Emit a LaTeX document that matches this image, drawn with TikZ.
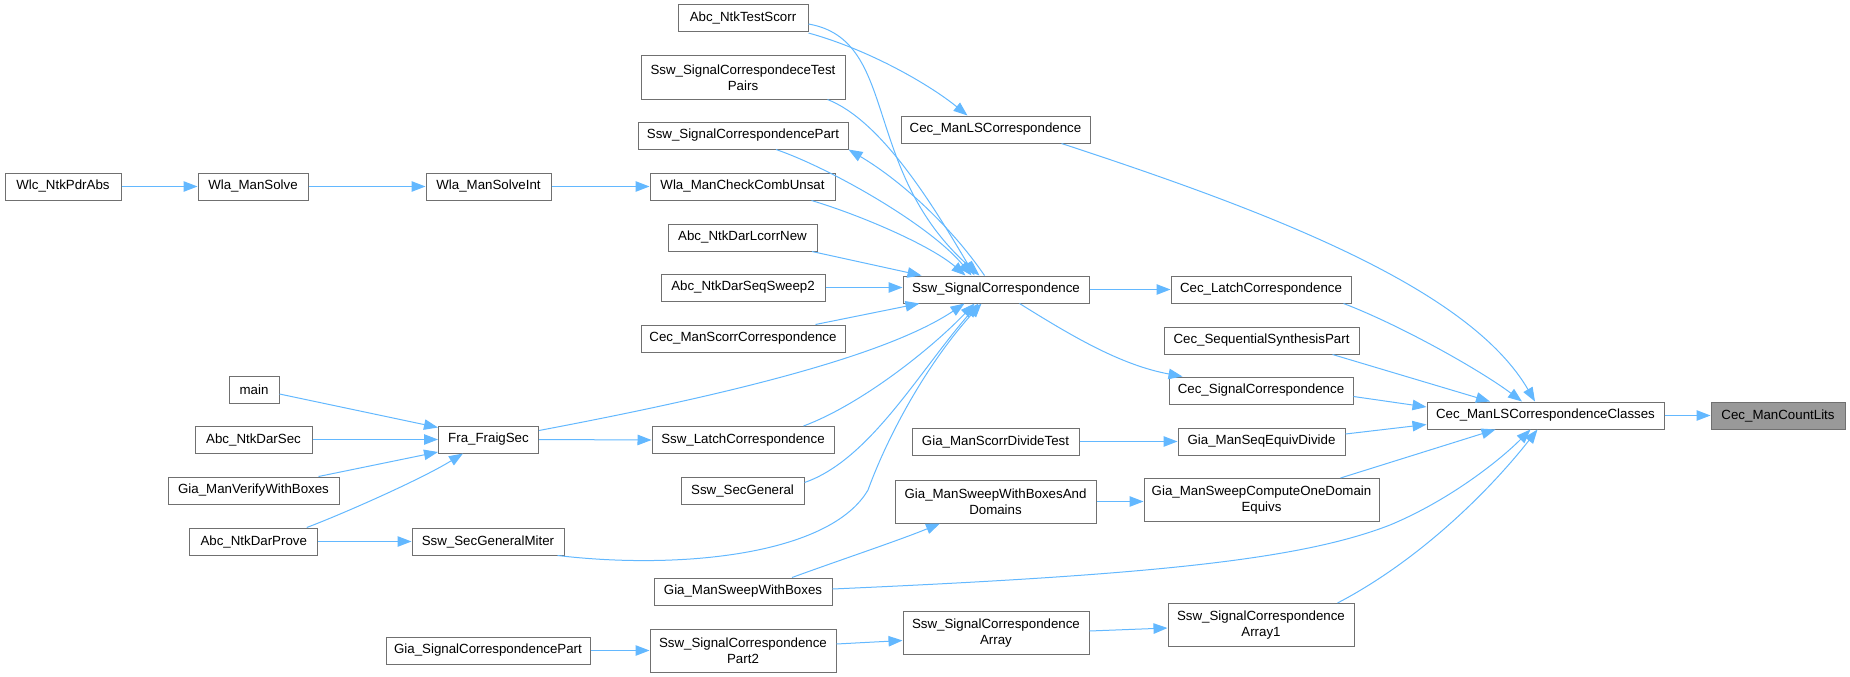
\documentclass[tikz,border=0pt]{standalone}
\usepackage{fontspec}
\setmainfont{Liberation Sans}
\usetikzlibrary{arrows.meta}
\definecolor{edgeblue}{HTML}{63B8FF}
\definecolor{boxline}{HTML}{707070}
\definecolor{hlfill}{HTML}{999999}
\tikzset{
  box/.style={draw=boxline, line width=1pt, fill=white, inner sep=0pt, minimum height=27pt,
    align=center, font=\fontsize{13.3}{15.7}\selectfont, text=black},
  box2/.style={box, minimum height=43pt},
  hl/.style={box, fill=hlfill},
  link/.style={draw=edgeblue, line width=1pt, -{Triangle[length=14pt,width=10.5pt]}}
}
\begin{document}
\begin{tikzpicture}[x=1pt,y=-1pt]
\useasboundingbox (0,0) rectangle (1850,677);
% column 1
\node[box, minimum width=116pt] (wlc) at (63,186.5) {Wlc\_NtkPdrAbs};
% column 2
\node[box, minimum width=110pt] (wms) at (253,186.5) {Wla\_ManSolve};
\node[box, minimum width=50pt] (main) at (254,389.5) {main};
\node[box, minimum width=117pt] (ands) at (253.5,439.5) {Abc\_NtkDarSec};
\node[box, minimum width=171pt] (gmvwb) at (253.5,490.5) {Gia\_ManVerifyWithBoxes};
\node[box, minimum width=128pt] (andp) at (253.75,541.5) {Abc\_NtkDarProve};
% column 3
\node[box, minimum width=125pt] (wmsi) at (488.5,186.5) {Wla\_ManSolveInt};
\node[box, minimum width=100pt] (ffs) at (488.5,439.5) {Fra\_FraigSec};
\node[box, minimum width=152pt] (ssgm) at (488,541.5) {Ssw\_SecGeneralMiter};
\node[box, minimum width=204pt] (gscp) at (488,650.5) {Gia\_SignalCorrespondencePart};
% column 4
\node[box, minimum width=130pt] (ants) at (743,18.5) {Abc\_NtkTestScorr};
\node[box2, minimum width=204pt] (sstp) at (743,77.5) {Ssw\_SignalCorrespondeceTest\\Pairs};
\node[box, minimum width=210pt] (sscp) at (743,135.5) {Ssw\_SignalCorrespondencePart};
\node[box, minimum width=185pt] (wmcc) at (742.5,186.5) {Wla\_ManCheckCombUnsat};
\node[box, minimum width=149pt] (andl) at (742.5,237.5) {Abc\_NtkDarLcorrNew};
\node[box, minimum width=164pt] (ands2) at (743,287.5) {Abc\_NtkDarSeqSweep2};
\node[box, minimum width=204pt] (cmsc) at (743,338.5) {Cec\_ManScorrCorrespondence};
\node[box, minimum width=182pt] (slc) at (743,440) {Ssw\_LatchCorrespondence};
\node[box, minimum width=123pt] (ssg) at (742.5,490.5) {Ssw\_SecGeneral};
\node[box, minimum width=178pt] (gmswb) at (743,591.5) {Gia\_ManSweepWithBoxes};
\node[box2, minimum width=186pt] (sscp2) at (743,650.5) {Ssw\_SignalCorrespondence\\Part2};
% column 5
\node[box, minimum width=189pt] (cmlsc) at (995.5,129.5) {Cec\_ManLSCorrespondence};
\node[box, minimum width=186pt] (ssc) at (996,289.5) {Ssw\_SignalCorrespondence};
\node[box, minimum width=167pt] (gmsdt) at (995.5,441.5) {Gia\_ManScorrDivideTest};
\node[box2, minimum width=201pt] (gmswbd) at (995.5,501.5) {Gia\_ManSweepWithBoxesAnd\\Domains};
\node[box2, minimum width=186pt] (ssca) at (996,633) {Ssw\_SignalCorrespondence\\Array};
% column 6
\node[box, minimum width=180pt] (clc) at (1261,289.5) {Cec\_LatchCorrespondence};
\node[box, minimum width=195pt] (cssp) at (1261.5,340.5) {Cec\_SequentialSynthesisPart};
\node[box, minimum width=184pt] (csc) at (1261,390.5) {Cec\_SignalCorrespondence};
\node[box, minimum width=167pt] (gmsed) at (1261.5,441.5) {Gia\_ManSeqEquivDivide};
\node[box2, minimum width=235pt] (gmscode) at (1261.5,500) {Gia\_ManSweepComputeOneDomain\\Equivs};
\node[box2, minimum width=186pt] (ssca1) at (1261,625) {Ssw\_SignalCorrespondence\\Array1};
% column 7, 8
\node[box, minimum width=237pt] (cmlscc) at (1545.5,415.5) {Cec\_ManLSCorrespondenceClasses};
\node[hl, minimum width=134pt] (cmcl) at (1778,415.5) {Cec\_ManCountLits};

% edges
\path[link] (wlc.east) -- (wms.west);
\path[link] (wms.east) -- (wmsi.west);
\path[link] (wmsi.east) -- (wmcc.west);
\path[link] ([xshift=-24pt]wmcc.south east) .. controls (860,215) and (930,245) .. ([xshift=63pt]ssc.north west);
\path[link] ([yshift=-0.5pt]ants.south east) .. controls (870,50) and (930,85) .. ([xshift=67pt]cmlsc.north west);
\path[link] ([yshift=-5.5pt]ants.east) .. controls (900,40) and (860,170) .. ([xshift=77pt]ssc.north west);
\path[link] ([xshift=-18pt]sstp.south east) .. controls (880,120) and (930,200) .. ([xshift=72pt]ssc.north west);
\path[link] ([xshift=33pt]sscp.south) .. controls (830,168) and (930,225) .. ([xshift=69pt]ssc.north west);
\path[link] ([xshift=82pt]ssc.north west) .. controls (950,225) and (900,180) .. (sscp.south east);
\path[link] ([xshift=-5.5pt]andl.south east) -- ([xshift=19pt]ssc.north west);
\path[link] (ands2.east) -- (ands2.east -| ssc.west);
\path[link] ([xshift=-30pt]cmsc.north east) -- ([xshift=17pt]ssc.south west);
\path[link] ([yshift=-5pt]ffs.north east) .. controls (700,400) and (880,360) .. ([xshift=62pt]ssc.south west);
\path[link] ([xshift=-31pt]slc.north east) .. controls (860,405) and (930,350) .. ([xshift=72pt]ssc.south west);
\path[link] ([yshift=-6pt]ssg.north east) .. controls (870,460) and (920,370) .. ([xshift=76pt]ssc.south west);
\path[link] ([xshift=-7pt]ssgm.south east) .. controls (680,570) and (830,555) .. (868,490) .. controls (890,430) and (930,360) .. ([xshift=79pt]ssc.south west);
\path[link] ([yshift=-4.5pt]main.east) -- ([yshift=-2pt]ffs.north west);
\path[link] (ands.east) -- (ffs.west);
\path[link] ([xshift=-21pt]gmvwb.north east) -- ([yshift=1.5pt]ffs.south west);
\path[link] ([xshift=-11.5pt]andp.north east) .. controls (340,515) and (420,480) .. ([xshift=-25.5pt]ffs.south);
\path[link] (andp.east) -- (ssgm.west);
\path[link] (ffs.east) -- (slc.west);
\path[link] (ssc.east) -- (clc.west);
\path[link] ([xshift=-70pt]ssc.south east) .. controls (1070,335) and (1120,365) .. ([xshift=14pt]csc.north west);
\path[link] ([xshift=-29pt]cmlsc.south east) .. controls (1280,215) and (1470,290) .. ([xshift=-10.5pt]cmlscc.north);
\path[link] ([xshift=-8pt]clc.south east) .. controls (1400,325) and (1480,370) .. ([xshift=-23.5pt]cmlscc.north);
\path[link] ([xshift=-27pt]cssp.south east) -- ([xshift=-55.5pt]cmlscc.north);
\path[link] ([yshift=-6pt]csc.east) -- ([yshift=8.5pt]cmlscc.west);
\path[link] (gmsdt.east) -- (gmsed.west);
\path[link] ([yshift=7.5pt]gmsed.east) -- ([yshift=-9pt]cmlscc.west);
\path[link] ([xshift=-39pt]gmscode.north east) -- ([xshift=-50pt]cmlscc.south);
\path[link] ([yshift=2.5pt]gmswb.east) .. controls (1150,575) and (1300,560) .. (1390,525) .. controls (1450,500) and (1500,460) .. ([xshift=-15pt]cmlscc.south);
\path[link] ([xshift=-17pt]ssca1.north east) .. controls (1420,560) and (1490,490) .. ([xshift=-8pt]cmlscc.south);
\path[link] (gmswbd.east) -- (gmswbd.east -| gmscode.west);
\path[link] ([xshift=49pt]gmswb.north) .. controls (840,560) and (900,540) .. ([xshift=-55.5pt]gmswbd.south);
\path[link] (gscp.east) -- (sscp2.west);
\path[link] ([yshift=6.5pt]sscp2.east) -- ([yshift=-7.5pt]ssca.west);
\path[link] ([yshift=2pt]ssca.east) -- ([yshift=-3pt]ssca1.west);
\path[link] (cmlscc.east) -- (cmcl.west);
\end{tikzpicture}
\end{document}
